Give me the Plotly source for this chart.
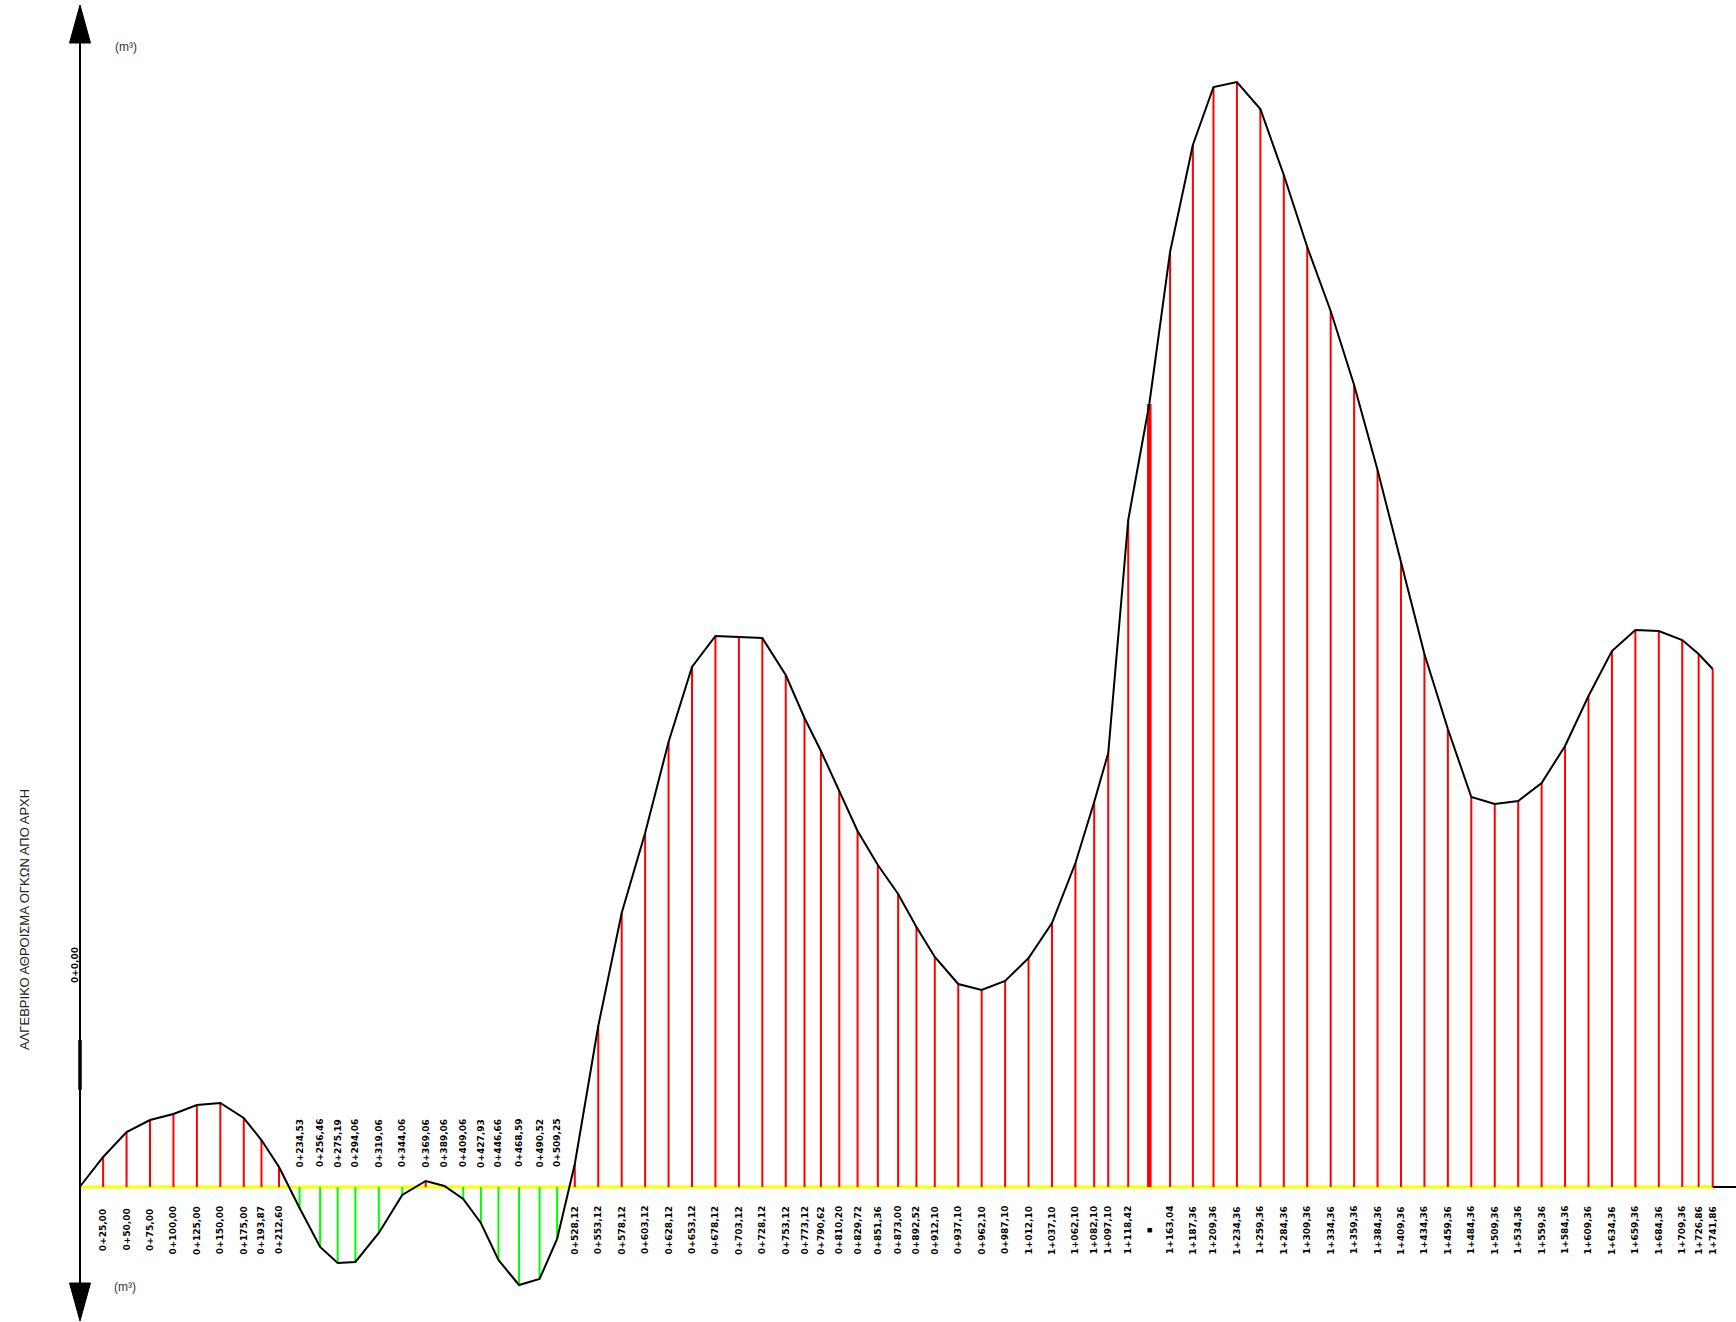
import plotly.graph_objects as go

# Chainage of each cross-section (m)
stations = [
    0.00, 25.00, 50.00, 75.00, 100.00, 125.00, 150.00, 175.00, 193.87, 212.60,
    234.53, 256.46, 275.19, 294.06, 319.06, 344.06, 369.06, 389.06, 409.06, 427.93,
    446.66, 468.59, 490.52, 509.25, 528.12, 553.12, 578.12, 603.12, 628.12, 653.12,
    678.12, 703.12, 728.12, 753.12, 773.12, 790.62, 810.20, 829.72, 851.36, 873.00,
    892.52, 912.10, 937.10, 962.10, 987.10, 1012.10, 1037.10, 1062.10, 1082.10, 1097.10,
    1118.42, 1140.90, 1163.04, 1187.36, 1209.36, 1234.36, 1259.36, 1284.36, 1309.36, 1334.36,
    1359.36, 1384.36, 1409.36, 1434.36, 1459.36, 1484.36, 1509.36, 1534.36, 1559.36, 1584.36,
    1609.36, 1634.36, 1659.36, 1684.36, 1709.36, 1726.86, 1741.86,
]

# Cumulative algebraic sum of volumes from the start (m3, scaled)
cumulative = [
    0, 30, 55, 67, 73, 82, 84, 69, 47, 20,
    -21, -60, -76, -75, -46, -8, 6, 1, -12, -36,
    -73, -98, -92, -52, 23, 161, 274, 354, 445, 520,
    551, 550, 549, 512, 469, 436, 396, 356, 322, 293,
    260, 230, 203, 197, 206, 229, 264, 324, 385, 434,
    667, 783, 935, 1042, 1100, 1105, 1078, 1012, 940, 876,
    802, 717, 625, 533, 458, 390, 383, 386, 404, 441,
    491, 536, 557, 556, 547, 533, 518,
]

# Station labels printed along the baseline
station_labels = [
    "0+0,00", "0+25,00", "0+50,00", "0+75,00", "0+100,00", "0+125,00", "0+150,00", "0+175,00", "0+193,87", "0+212,60",
    "0+234,53", "0+256,46", "0+275,19", "0+294,06", "0+319,06", "0+344,06", "0+369,06", "0+389,06", "0+409,06", "0+427,93",
    "0+446,66", "0+468,59", "0+490,52", "0+509,25", "0+528,12", "0+553,12", "0+578,12", "0+603,12", "0+628,12", "0+653,12",
    "0+678,12", "0+703,12", "0+728,12", "0+753,12", "0+773,12", "0+790,62", "0+810,20", "0+829,72", "0+851,36", "0+873,00",
    "0+892,52", "0+912,10", "0+937,10", "0+962,10", "0+987,10", "1+012,10", "1+037,10", "1+062,10", "1+082,10", "1+097,10",
    "1+118,42", "▪", "1+163,04", "1+187,36", "1+209,36", "1+234,36", "1+259,36", "1+284,36", "1+309,36", "1+334,36",
    "1+359,36", "1+384,36", "1+409,36", "1+434,36", "1+459,36", "1+484,36", "1+509,36", "1+534,36", "1+559,36", "1+584,36",
    "1+609,36", "1+634,36", "1+659,36", "1+684,36", "1+709,36", "1+726,86", "1+741,86",
]

# Stations whose ordinate is drawn with a heavier stroke
heavy_stations = [1140.90]

W, H = 1736, 1322
X_RANGE = [-85.0, 1766.7]
Y_RANGE = [-135.0, 1187.0]

fig = go.Figure()

end = stations[-1]

# Zero line (yellow) and its continuation beyond the last section (black)
fig.add_trace(go.Scatter(x=[0, end], y=[0, 0], mode="lines",
                         line=dict(color="#FFFF00", width=3), hoverinfo="skip"))
fig.add_trace(go.Scatter(x=[end, X_RANGE[1]], y=[0, 0], mode="lines",
                         line=dict(color="black", width=2), hoverinfo="skip"))

# Ordinates: red above the zero line, green below
red_x, red_y, green_x, green_y, heavy_x, heavy_y = [], [], [], [], [], []
for s, v in zip(stations, cumulative):
    if v == 0:
        continue
    if s in heavy_stations:
        heavy_x += [s, s, None]
        heavy_y += [0, v, None]
    elif v > 0:
        red_x += [s, s, None]
        red_y += [0, v, None]
    else:
        green_x += [s, s, None]
        green_y += [0, v, None]

fig.add_trace(go.Scatter(x=red_x, y=red_y, mode="lines",
                         line=dict(color="#FF0000", width=2), hoverinfo="skip"))
fig.add_trace(go.Scatter(x=heavy_x, y=heavy_y, mode="lines",
                         line=dict(color="#FF0000", width=4.5), hoverinfo="skip"))
fig.add_trace(go.Scatter(x=green_x, y=green_y, mode="lines",
                         line=dict(color="#00FF00", width=2), hoverinfo="skip"))

# Mass-haul curve
fig.add_trace(go.Scatter(x=stations, y=cumulative, mode="lines",
                         line=dict(color="black", width=2), hoverinfo="skip"))

annotations = []
label_font = dict(family="DejaVu Sans", size=9, color="black", weight="bold")

# Station labels: below the baseline, or above it where the curve dips below
for s, v, lab in zip(stations, cumulative, station_labels):
    if s == 0:
        continue
    above = v < 10
    annotations.append(dict(
        x=s, y=0, xref="x", yref="y", text=lab, showarrow=False,
        textangle=-90, xanchor="center", yanchor="middle",
        yshift=44 if above else -43, font=label_font,
    ))

# Label of the origin, placed beside the vertical axis
annotations.append(dict(
    x=75 / W, y=1 - 965 / H, xref="paper", yref="paper", text=station_labels[0],
    showarrow=False, textangle=-90, xanchor="center", yanchor="middle", font=label_font,
))

# Units at both ends of the vertical axis
unit_font = dict(family="Liberation Sans", size=12, color="#333333")
annotations.append(dict(x=126 / W, y=1 - 47 / H, xref="paper", yref="paper", text="(m³)",
                        showarrow=False, xanchor="center", yanchor="middle", font=unit_font))
annotations.append(dict(x=125 / W, y=1 - 1287 / H, xref="paper", yref="paper", text="(m³)",
                        showarrow=False, xanchor="center", yanchor="middle", font=unit_font))

# Axis title
annotations.append(dict(
    x=24 / W, y=1 - 920 / H, xref="paper", yref="paper",
    text="ΑΛΓΕΒΡΙΚΟ ΑΘΡΟΙΣΜΑ ΟΓΚΩΝ ΑΠΟ ΑΡΧΗ", showarrow=False, textangle=-90,
    xanchor="center", yanchor="middle",
    font=dict(family="Liberation Sans", size=13, color="#222222"),
))


def px(x, y):
    """Pixel position -> paper coordinates."""
    return x / W, 1 - y / H


shapes = []
ax_x = 80
# Vertical axis with arrowheads at both ends
x0, y0 = px(ax_x, 40)
x1, y1 = px(ax_x, 1285)
shapes.append(dict(type="line", xref="paper", yref="paper", x0=x0, y0=y0, x1=x1, y1=y1,
                   line=dict(color="black", width=2)))
x0, y0 = px(ax_x, 1040)
x1, y1 = px(ax_x, 1090)
shapes.append(dict(type="line", xref="paper", yref="paper", x0=x0, y0=y0, x1=x1, y1=y1,
                   line=dict(color="black", width=3.5)))


def tri(tip_y, base_y, half=10.5):
    a = px(ax_x, tip_y)
    b = px(ax_x - half, base_y)
    c = px(ax_x + half, base_y)
    return f"M {a[0]},{a[1]} L {b[0]},{b[1]} L {c[0]},{c[1]} Z"


shapes.append(dict(type="path", xref="paper", yref="paper", path=tri(5, 43),
                   fillcolor="black", line=dict(color="black", width=1)))
shapes.append(dict(type="path", xref="paper", yref="paper", path=tri(1321, 1283),
                   fillcolor="black", line=dict(color="black", width=1)))

fig.update_layout(
    width=W, height=H,
    margin=dict(l=0, r=0, t=0, b=0),
    paper_bgcolor="white", plot_bgcolor="white",
    showlegend=False,
    xaxis=dict(range=X_RANGE, visible=False, fixedrange=True),
    yaxis=dict(range=Y_RANGE, visible=False, fixedrange=True),
    annotations=annotations,
    shapes=shapes,
)

fig.write_html("out.html", config={"displayModeBar": False})
